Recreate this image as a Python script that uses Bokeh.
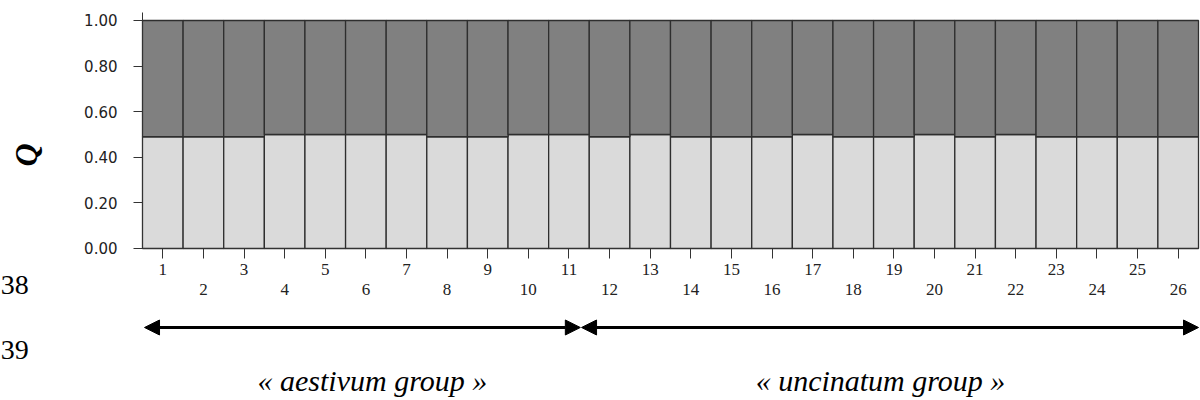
import math
from bokeh.plotting import figure
from bokeh.models import (Range1d, LinearAxis, FixedTicker, NumeralTickFormatter,
                          Arrow, NormalHead, Label)
from bokeh.embed import file_html
from bokeh.resources import INLINE

# ---- data ----
individuals = list(range(1, 27))
cluster_light = [0.49, 0.49, 0.49, 0.50, 0.50, 0.50, 0.50, 0.49, 0.49, 0.50,
                 0.50, 0.49, 0.50, 0.49, 0.49, 0.49, 0.50, 0.49, 0.49, 0.50,
                 0.49, 0.50, 0.49, 0.49, 0.49, 0.49]
cluster_dark = [round(1 - v, 2) for v in cluster_light]
y_ticks = [0.0, 0.2, 0.4, 0.6, 0.8, 1.0]
group_names = ["« aestivum group »", "« uncinatum group »"]
group_x0 = [0.55, 11.31]
group_x1 = [11.28, 26.5]
group_label_x = [6.16, 18.67]
line_numbers = ["38", "39"]

SERIF = "Liberation Serif"

# the frame covers the whole canvas; axes are pinned with fixed_location
p = figure(width=1200, height=400, x_range=Range1d(-2.996, 26.549),
           y_range=Range1d(-0.6667, 1.0877),
           output_backend="svg", toolbar_location=None,
           min_border=0, min_border_left=0, min_border_right=0,
           min_border_top=0, min_border_bottom=0)
p.outline_line_color = None
p.grid.visible = False
p.background_fill_color = "white"
p.border_fill_color = "white"

light_top = cluster_light
dark_top = [a + b for a, b in zip(cluster_light, cluster_dark)]
p.vbar(x=individuals, width=1, bottom=0, top=light_top,
       fill_color="#dadada", line_color="#2e2e2e", line_width=1.3)
p.vbar(x=individuals, width=1, bottom=light_top, top=dark_top,
       fill_color="#808080", line_color="#2e2e2e", line_width=1.3)

# y axis
ya = p.yaxis[0]
ya.fixed_location = 0.5
ya.bounds = (0, 1.035)
ya.ticker = FixedTicker(ticks=y_ticks)
ya.formatter = NumeralTickFormatter(format="0.00")
ya.major_tick_out = 9
ya.major_tick_in = 0
ya.minor_tick_out = 0
ya.minor_tick_in = 0
ya.axis_line_color = "#333333"
ya.major_tick_line_color = "#333333"
ya.major_label_text_font = "DejaVu Sans"
ya.major_label_text_font_size = "15px"
ya.major_label_text_color = "#222222"
ya.major_label_standoff = 16

# x axis: odd labels
xa = p.xaxis[0]
xa.fixed_location = 0
xa.bounds = (0.5, 26.5)
xa.ticker = FixedTicker(ticks=individuals)
xa.major_label_overrides = {i: (str(i) if i % 2 == 1 else "") for i in individuals}
xa.major_tick_out = 10
xa.major_tick_in = 0
xa.minor_tick_out = 0
xa.minor_tick_in = 0
xa.axis_line_color = "#333333"
xa.major_tick_line_color = "#333333"
xa.major_label_text_font = SERIF
xa.major_label_text_font_size = "17px"
xa.major_label_text_color = "#222222"
xa.major_label_standoff = 6

# x axis: even labels (second row)
evens = [i for i in individuals if i % 2 == 0]
xa2 = LinearAxis(ticker=FixedTicker(ticks=evens),
                 major_label_overrides={i: str(i) for i in evens})
xa2.fixed_location = 0
xa2.bounds = (0.5, 26.5)
xa2.major_tick_out = 0
xa2.major_tick_in = 0
xa2.minor_tick_out = 0
xa2.minor_tick_in = 0
xa2.axis_line_color = None
xa2.major_label_text_font = SERIF
xa2.major_label_text_font_size = "17px"
xa2.major_label_text_color = "#222222"
xa2.major_label_standoff = 36
p.add_layout(xa2, "below")

# axis title Q
p.add_layout(Label(x=-2.38, y=0.41, text="Q", text_font=SERIF,
                   text_font_style="bold italic", text_font_size="32px",
                   angle=math.pi / 2, text_align="center", text_baseline="middle",
                   text_color="black"))

# group arrows and labels
for name, x0, x1, lx in zip(group_names, group_x0, group_x1, group_label_x):
    p.add_layout(Arrow(start=NormalHead(size=15, fill_color="black", line_color="black"),
                       end=NormalHead(size=15, fill_color="black", line_color="black"),
                       x_start=x0, y_start=-0.3465, x_end=x1, y_end=-0.3465,
                       line_width=3, line_color="black"))
    p.add_layout(Label(x=lx, y=-0.579, text=name, text_font=SERIF,
                       text_font_style="italic", text_font_size="30px",
                       text_align="center", text_baseline="middle", text_color="black"))

for txt, yy in zip(line_numbers, [-0.162, -0.447]):
    p.add_layout(Label(x=-2.99, y=yy, text=txt, text_font=SERIF, text_font_size="28px",
                       text_align="left", text_baseline="middle", text_color="black"))

open("out.html", "w").write(file_html(p, INLINE))
